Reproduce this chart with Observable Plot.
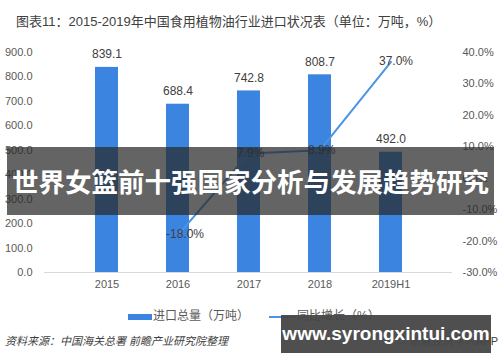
<!DOCTYPE html>
<html><head><meta charset="utf-8">
<script src="https://cdn.jsdelivr.net/npm/d3@7"></script>
<script src="https://cdn.jsdelivr.net/npm/@observablehq/plot@0.6"></script>
<style>
html,body{margin:0;padding:0;background:#fff;}
#wrap{position:relative;width:500px;height:362px;overflow:hidden;font-family:"Liberation Sans","Noto Sans CJK SC",sans-serif;}
#title{position:absolute;left:16px;top:11px;font-size:13px;color:#404040;white-space:nowrap;}
.leg{position:absolute;top:306px;font-size:12px;color:#595959;white-space:nowrap;}
.sw{display:inline-block;vertical-align:middle;margin-right:1px;}
#src{position:absolute;left:5px;top:332px;font-size:11px;font-style:italic;color:#404040;white-space:nowrap;}
#app{position:absolute;right:2px;top:332px;font-size:11px;color:#404040;white-space:nowrap;}
#banner{position:absolute;left:7px;top:147px;width:487px;height:68px;background:rgba(40,40,40,0.72);color:#fff;font-weight:bold;font-size:26.5px;line-height:68px;text-align:center;white-space:nowrap;font-family:"Noto Sans CJK SC",sans-serif;}
#url{position:absolute;left:281px;top:315px;width:210px;height:38px;background:rgba(70,70,70,0.95);color:#fff;font-weight:bold;font-size:19px;line-height:38px;text-align:center;white-space:nowrap;font-family:"Liberation Sans","Open Sans",sans-serif;}
#chart{position:absolute;left:0;top:0;}
</style></head>
<body><div id="wrap">
<div id="chart"></div>
<div id="title">图表11：2015-2019年中国食用植物油行业进口状况表（单位：万吨，%）</div>
<div class="leg" style="left:128px"><span class="sw" style="width:24px;height:6px;background:#3b84df"></span>进口总量（万吨）</div>
<div class="leg" style="left:269px"><span class="sw" style="width:27px;height:2px;background:#4a94e6"></span>同比增长（%）</div>
<div id="src">资料来源：中国海关总署 前瞻产业研究院整理</div>
<div id="app">◎ 前瞻经济学人APP</div>
<div id="banner">世界女篮前十强国家分析与发展趋势研究</div>
<div id="url">www.syrongxintui.com</div>
</div>
<script>
const years = ["2015","2016","2017","2018","2019H1"];
const imports = [839.1, 688.4, 742.8, 808.7, 492.0];
const growthYears = ["2016","2017","2018","2019H1"];
const growth = [-18.0, 7.9, 8.9, 37.0];
const leftTicks = [0,100,200,300,400,500,600,700,800,900];
const rightTicks = [-30,-20,-10,0,10,20,30,40];

const pctToLeft = p => (p + 30) * 900 / 70;
const bars = years.map((y,i)=>({year:y, v:imports[i]}));
const line = growthYears.map((y,i)=>({year:y, p:growth[i], v:pctToLeft(growth[i])}));

const chart = Plot.plot({
  width:500, height:362,
  marginTop:52, marginBottom:90, marginLeft:44, marginRight:48,
  style:{fontFamily:"Liberation Sans, Noto Sans CJK SC, sans-serif", fontSize:"11px", color:"#595959", background:"transparent"},
  x:{domain:years, padding:0.68, label:null},
  y:{domain:[0,900], label:null},
  marks:[
    Plot.axisY({ticks:leftTicks, tickSize:0, tickPadding:12, tickFormat:d=>d.toFixed(1), label:null, fontSize:11}),
    Plot.axisY({anchor:"right", ticks:rightTicks.map(pctToLeft), tickSize:0, tickPadding:10,
      tickFormat:(d,i)=>rightTicks[i].toFixed(1)+"%", label:null, fontSize:11}),
    Plot.axisX({tickSize:0, tickPadding:8, label:null, fontSize:11}),
    Plot.ruleY([0], {stroke:"#d9d9d9"}),
    Plot.barY(bars, {x:"year", y:"v", fill:"#3b84df"}),
    Plot.text(bars, {x:"year", y:"v", text:d=>d.v.toFixed(1), dy:-13, fill:"#404040", fontSize:12}),
    Plot.line(line, {x:"year", y:"v", stroke:"#4a94e6", strokeWidth:2}),
    Plot.text(line, {x:"year", y:"v", text:d=>d.p.toFixed(1)+"%", textAnchor:"start",
      dx:d=>d.p < 0 ? 12 : 10, dy:d=>d.p < 0 ? 2 : 0, fill:"#404040", fontSize:12})
  ]
});
document.getElementById("chart").appendChild(chart);
</script>
</body></html>
